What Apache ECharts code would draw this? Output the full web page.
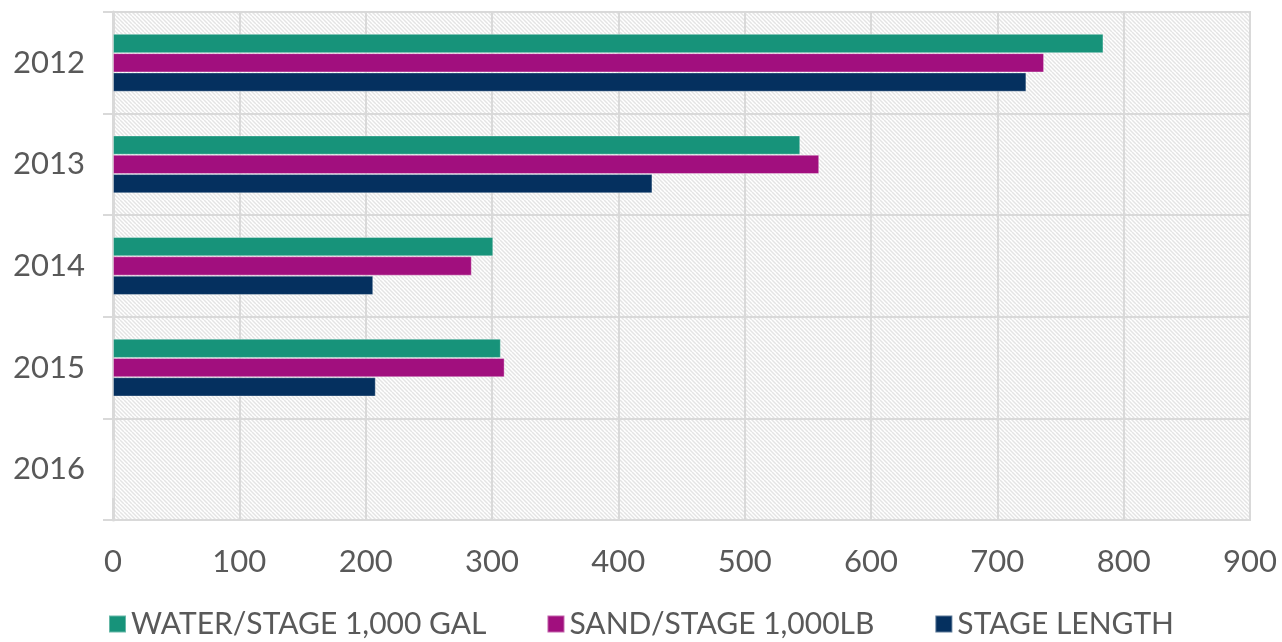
<!DOCTYPE html>
<html><head><meta charset="utf-8">
<script src="https://cdn.jsdelivr.net/npm/echarts@6/dist/echarts.min.js"></script>
<style>html,body{margin:0;padding:0;background:#fff}#c{width:1282px;height:642px}</style>
</head><body><div id="c"></div>
<script>
const categories = ['2012','2013','2014','2015','2016'];
const water = [784, 544, 301, 307, 0];
const sand = [737, 559, 284, 310, 0];
const stageLength = [723, 427, 206, 208, 0];
const seriesNames = ['WATER/STAGE 1,000 GAL','SAND/STAGE 1,000LB','STAGE LENGTH'];
const xTicks = {min:0, max:900, interval:100};

const pc = document.createElement('canvas');
pc.width = 8; pc.height = 8;
const g = pc.getContext('2d');
g.fillStyle = '#ffffff'; g.fillRect(0,0,8,8);
g.strokeStyle = '#e4e4e4'; g.lineWidth = 1.5;
for (let k=-8;k<=16;k+=4){ g.beginPath(); g.moveTo(k,0); g.lineTo(k+8,8); g.stroke(); }

const font = 'Lato, "Noto Sans", sans-serif';
const chart = echarts.init(document.getElementById('c'), null, {renderer:'canvas'});
const vals = [water, sand, stageLength];
const colors = ['#17937A','#A10F7E','#05305F'];
chart.setOption({
  animation:false,
  grid:{left:113,right:32,top:12,bottom:122,show:true,backgroundColor:{image:pc,repeat:'repeat'},borderColor:'#d9d9d9',borderWidth:2},
  legend:{bottom:-2,left:'center',itemWidth:17,itemHeight:17,itemGap:60,icon:'rect',
    textStyle:{fontFamily:font,fontSize:30,color:'#595959'}, data:seriesNames},
  xAxis:{type:'value',min:xTicks.min,max:xTicks.max,interval:xTicks.interval,
    axisLine:{show:false},axisTick:{show:false},
    axisLabel:{fontFamily:font,fontSize:31,color:'#595959',margin:26},
    splitLine:{show:true,lineStyle:{color:'#d9d9d9',width:2}}},
  yAxis:{type:'category',inverse:true,data:categories,
    axisLine:{show:true,lineStyle:{color:'#d9d9d9',width:3}},
    axisTick:{show:true,length:10,lineStyle:{color:'#d9d9d9',width:2}},
    axisLabel:{fontFamily:font,fontSize:31,color:'#595959',margin:28},
    splitLine:{show:true,lineStyle:{color:'#d9d9d9',width:2}}},
  series: seriesNames.map((n,i)=>({name:n,type:'bar',data:vals[i],barGap:'0%',barCategoryGap:'43%',
    itemStyle:{color:colors[i],borderColor:'rgba(255,255,255,0.35)',borderWidth:1}}))
});
</script></body></html>
